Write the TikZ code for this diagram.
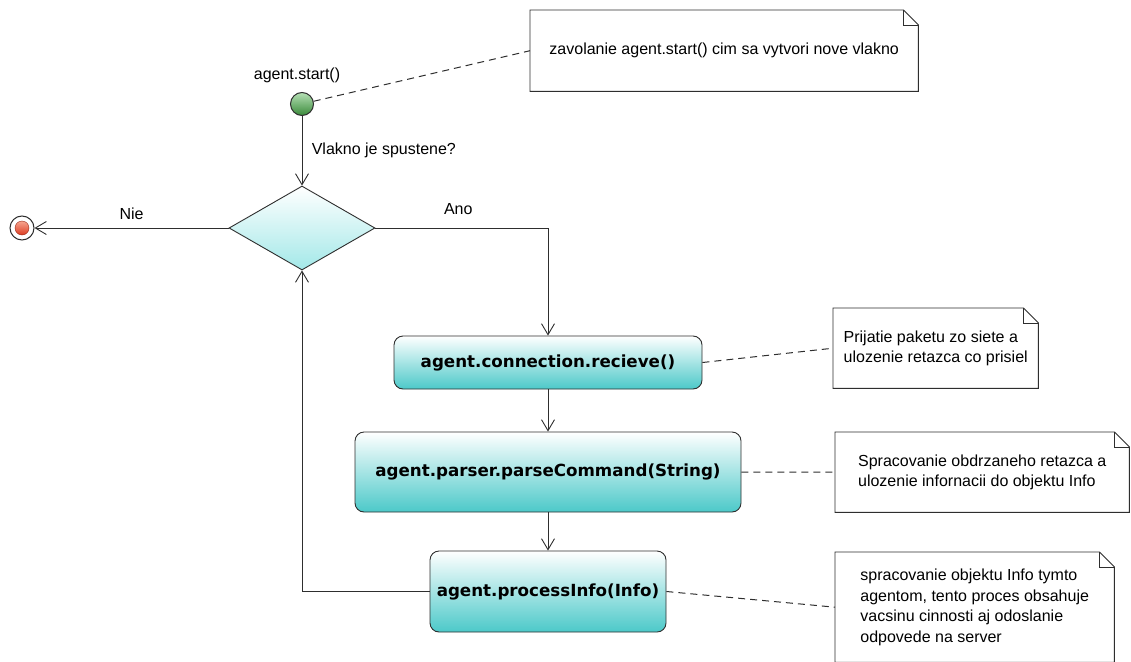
\documentclass[tikz,border=0pt]{standalone}
\usepackage{fontspec}
\setmainfont{Liberation Sans}
\newfontfamily\actfont{DejaVu Sans}
\usetikzlibrary{positioning}
\usetikzlibrary{arrows.meta}
\usetikzlibrary{shapes.geometric}
\definecolor{linecol}{HTML}{2E2E2E}
\definecolor{actcol}{HTML}{4CC9C9}
\definecolor{deccol}{HTML}{A3E8E8}
\definecolor{starttop}{HTML}{B5E0B5}
\definecolor{startbot}{HTML}{3A8A3A}
\definecolor{stoptop}{HTML}{F7A590}
\definecolor{stopbot}{HTML}{DC3C22}
\tikzset{
	action/.style={rectangle, rounded corners=9pt, draw=linecol, line width=0.9pt, top color=white, bottom color=actcol, font=\actfont\bfseries\fontsize{16.7}{20}\selectfont, inner sep=0pt},
	decision/.style={diamond, draw=linecol, line width=0.9pt, top color=white, bottom color=deccol, minimum width=146pt, minimum height=84pt, inner sep=0pt},
	note/.style={rectangle, fill=white, align=left, font=\fontsize{16}{20.5}\selectfont, inner sep=0pt, anchor=north west},
	flow/.style={draw=linecol, line width=0.9pt, -{Straight Barb[length=11pt,width=13pt]}},
	link/.style={draw=linecol, line width=1pt, dash pattern=on 7pt off 5pt},
	lbl/.style={font=\fontsize{16}{20}\selectfont},
}
\begin{document}
\begin{tikzpicture}[x=1pt, y=-1pt]
		\path[use as bounding box] (0,0) rectangle (1131,661);
		\clip (0,0) rectangle (1131,661);
		\begin{scope}
			\node[circle, draw=linecol, line width=1pt, top color=starttop, bottom color=startbot, minimum size=23pt, inner sep=0pt] (start) at (302,104) {};
			\node[lbl] (startlbl) at (297,75) {agent.start()};
			\node[decision] (dec) at (302,228) {};
			\node[circle, draw=linecol, line width=1pt, fill=white, minimum size=24pt, inner sep=0pt] (stop) at (22,228) {};
			\node[circle, draw=stopbot!70!black, line width=0.4pt, top color=stoptop, bottom color=stopbot, minimum size=14pt, inner sep=0pt] (stopdot) at (stop) {};
		\end{scope}
		\node[action, minimum width=308pt, minimum height=53pt] (recv) at (548,362.5) {agent.connection.recieve()};
		\node[action, minimum width=386pt, minimum height=80pt] (parse) at (548,472) {agent.parser.parseCommand(String)};
		\node[action, minimum width=236pt, minimum height=81pt] (info) at (548,591.5) {agent.processInfo(Info)};
		\draw[flow] (start) -- (dec) node[midway, right=6pt, lbl]{Vlakno je spustene?};
		\draw[flow] (dec.west) -- (stop) node[midway, above=5pt, lbl]{Nie};
		\draw[flow] (dec.east) -| (recv.north) node[pos=0.24, above=10pt, lbl]{Ano};
		\draw[flow] (recv) -- (parse);
		\draw[flow] (parse) -- (info);
		\draw[flow] (info.west) -| (dec.south);
		\node[note, minimum width=388pt, minimum height=81pt] (nstart) at (530,10) {zavolanie agent.start() cim sa vytvori nove vlakno};
		\node[note, minimum width=205pt, minimum height=80pt] (nrecv) at (833,308) {Prijatie paketu zo siete a\\ulozenie retazca co prisiel};
		\node[note, minimum width=294pt, minimum height=80pt] (nparse) at (835,432) {Spracovanie obdrzaneho retazca a\\ulozenie infornacii do objektu Info};
		\node[note, minimum width=279pt, minimum height=110pt] (ninfo) at (835,552) {spracovanie objektu Info tymto\\agentom, tento proces obsahuje\\vacsinu cinnosti aj odoslanie\\odpovede na server};
		\foreach \n in {nstart,nrecv,nparse,ninfo}{
			\draw[draw=linecol, line width=0.9pt] (\n.south west) -- (\n.north west) -- ([xshift=-15pt]\n.north east) -- ([yshift=-15pt]\n.north east) -- (\n.south east) -- cycle;
			\draw[draw=linecol, line width=0.9pt] ([xshift=-15pt]\n.north east) |- ([yshift=-15pt]\n.north east);
		}
		\draw[link] (start) -- (nstart.west);
		\draw[link] (recv.east) -- (nrecv.west);
		\draw[link] (parse) -- (nparse);
		\draw[link] (info.east) -- (ninfo.west);
	\end{tikzpicture}
\end{document}
